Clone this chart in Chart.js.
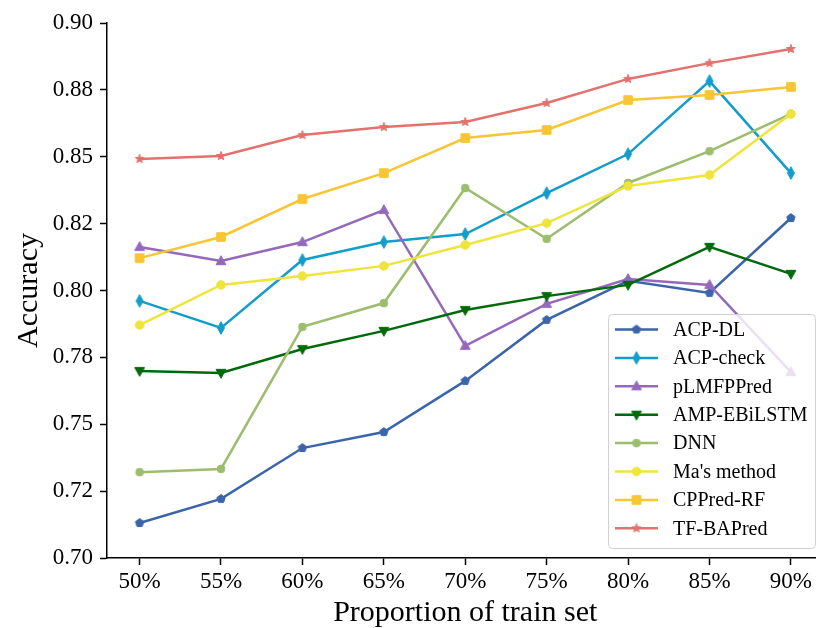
<!DOCTYPE html>
<html>
<head>
<meta charset="utf-8">
<script src="https://cdn.jsdelivr.net/npm/chart.js@4.4.1/dist/chart.umd.min.js"></script>
<style>
  html, body { margin: 0; padding: 0; background: #fff; overflow: hidden; }
  #wrap { width: 830px; height: 628px; }
</style>
</head>
<body>
<div id="wrap"><canvas id="chart" width="830" height="628"></canvas></div>
<script>
// Accuracy per training-set proportion
const xLabels = ['50%', '55%', '60%', '65%', '70%', '75%', '80%', '85%', '90%'];
const yTicks = [0.70, 0.725, 0.75, 0.775, 0.80, 0.825, 0.85, 0.875, 0.90];
const yTickLabels = ['0.70', '0.72', '0.75', '0.78', '0.80', '0.82', '0.85', '0.88', '0.90'];

const methodNames = ['ACP-DL', 'ACP-check', 'pLMFPPred', 'AMP-EBiLSTM', 'DNN', "Ma's method", 'CPPred-RF', 'TF-BAPred'];

const acpDl      = [0.7131, 0.7221, 0.7411, 0.7471, 0.7662, 0.7890, 0.8036, 0.7991, 0.8271];
const acpCheck   = [0.7961, 0.7860, 0.8114, 0.8181, 0.8211, 0.8364, 0.8510, 0.8783, 0.8439];
const plmfpPred  = [0.8163, 0.8110, 0.8181, 0.8301, 0.7793, 0.7950, 0.8043, 0.8021, 0.7695];
const ampEbilstm = [0.7699, 0.7692, 0.7781, 0.7849, 0.7927, 0.7979, 0.8021, 0.8163, 0.8062];
const dnn        = [0.7321, 0.7333, 0.7864, 0.7953, 0.8383, 0.8193, 0.8402, 0.8521, 0.8660];
const masMethod  = [0.7871, 0.8021, 0.8054, 0.8092, 0.8170, 0.8252, 0.8391, 0.8432, 0.8660];
const cppredRf   = [0.8121, 0.8200, 0.8342, 0.8439, 0.8570, 0.8600, 0.8712, 0.8731, 0.8761];
const tfBapred   = [0.8492, 0.8503, 0.8581, 0.8611, 0.8630, 0.8701, 0.8791, 0.8850, 0.8903];

const seriesValues = [acpDl, acpCheck, plmfpPred, ampEbilstm, dnn, masMethod, cppredRf, tfBapred];

// styling
const colors = ['#3b65ab', '#139dcb', '#9468bb', '#006a0a', '#9dbd6e', '#efe43c', '#f8c533', '#e1726d'];
const shapes = ['pentagon', 'thinDiamond', 'triangle', 'triangleDown', 'circle', 'circleBig', 'square', 'star'];

const FONT = '"Liberation Serif", "Times New Roman", serif';

// small canvases used as point styles (Chart.js has no pentagon / filled star / thin diamond)
function makeMarker(shape, color) {
  var c = document.createElement('canvas');
  c.width = 16; c.height = 16;
  var g = c.getContext('2d');
  g.fillStyle = color; g.strokeStyle = color; g.lineWidth = 1;
  g.translate(8, 8);
  g.beginPath();
  var i, a, r;
  if (shape === 'pentagon') {
    for (i = 0; i < 5; i++) {
      a = -Math.PI / 2 + i * 2 * Math.PI / 5;
      g.lineTo(4.4 * Math.cos(a), 4.4 * Math.sin(a));
    }
  } else if (shape === 'thinDiamond') {
    g.moveTo(0, -6.3); g.lineTo(3.5, 0); g.lineTo(0, 6.3); g.lineTo(-3.5, 0);
  } else if (shape === 'triangle') {
    g.moveTo(0, -5.3); g.lineTo(4.9, 3.6); g.lineTo(-4.9, 3.6);
  } else if (shape === 'triangleDown') {
    g.moveTo(0, 5.3); g.lineTo(4.9, -3.6); g.lineTo(-4.9, -3.6);
  } else if (shape === 'circle') {
    g.arc(0, 0, 3.9, 0, Math.PI * 2);
  } else if (shape === 'circleBig') {
    g.arc(0, 0, 4.3, 0, Math.PI * 2);
  } else if (shape === 'square') {
    g.rect(-4.3, -4.3, 8.6, 8.6);
  } else if (shape === 'star') {
    for (i = 0; i < 10; i++) {
      a = -Math.PI / 2 + i * Math.PI / 5;
      r = i % 2 === 0 ? 4.6 : 1.9;
      g.lineTo(r * Math.cos(a), r * Math.sin(a));
    }
  }
  g.closePath();
  g.fill();
  g.stroke();
  return c;
}

const markers = shapes.map(function (s, i) { return makeMarker(s, colors[i]); });

// matplotlib-style legend box inside the axes, lower right
const boxLegend = {
  id: 'boxLegend',
  afterDraw: function (chart) {
    var ctx = chart.ctx;
    var x = 608, y = 314, w = 207, h = 234, rad = 4;
    ctx.save();
    ctx.beginPath();
    ctx.roundRect(x + 0.5, y + 0.5, w, h, rad);
    ctx.fillStyle = 'rgba(255,255,255,0.8)';
    ctx.fill();
    ctx.strokeStyle = '#d0d0d0';
    ctx.lineWidth = 1;
    ctx.stroke();

    ctx.font = '20px ' + FONT;
    ctx.textBaseline = 'middle';
    ctx.textAlign = 'left';
    methodNames.forEach(function (name, i) {
      var ry = 329.5 + i * 28.4;
      ctx.beginPath();
      ctx.moveTo(615, ry);
      ctx.lineTo(658, ry);
      ctx.strokeStyle = colors[i];
      ctx.lineWidth = 2.5;
      ctx.stroke();
      ctx.drawImage(markers[i], 636.5 - 8, ry - 8);
      ctx.fillStyle = '#000';
      ctx.fillText(name, 673, ry + 1);
    });
    ctx.restore();
  }
};

const datasets = seriesValues.map(function (vals, i) {
  return {
    label: methodNames[i],
    data: vals.map(function (v, j) { return { x: j, y: v }; }),
    borderColor: colors[i],
    backgroundColor: colors[i],
    borderWidth: 2.5,
    tension: 0,
    pointStyle: markers[i],
    pointRadius: 4,
    fill: false,
    order: seriesValues.length - i, // later series drawn on top, like matplotlib
  };
});

new Chart(document.getElementById('chart'), {
  type: 'line',
  data: { datasets: datasets },
  options: {
    responsive: false,
    animation: false,
    devicePixelRatio: 1,
    layout: { padding: { left: 0, top: 23, right: 3, bottom: 0 } },
    plugins: {
      legend: { display: false },
      tooltip: { enabled: false },
    },
    scales: {
      x: {
        type: 'linear',
        min: -0.4,
        max: 8.4,
        afterBuildTicks: function (scale) {
          scale.ticks = xLabels.map(function (_, i) { return { value: i }; });
        },
        afterFit: function (scale) { scale.height = 70; },
        ticks: {
          autoSkip: false,
          maxRotation: 0,
          padding: 3,
          color: '#000',
          font: { family: FONT, size: 23 },
          callback: function (v, i) { return xLabels[i]; },
        },
        grid: { display: true, drawOnChartArea: false, drawTicks: true, tickLength: 7, tickWidth: 1.5, tickColor: '#000' },
        border: { display: true, color: '#000', width: 1.5 },
        title: {
          display: true,
          text: 'Proportion of train set',
          color: '#000',
          font: { family: FONT, size: 30 },
          padding: { top: 0, bottom: -3 },
        },
      },
      y: {
        type: 'linear',
        min: 0.70,
        max: 0.90,
        afterBuildTicks: function (scale) {
          scale.ticks = yTicks.map(function (v) { return { value: v }; });
        },
        afterFit: function (scale) { scale.width = 107; },
        ticks: {
          padding: 7,
          color: '#000',
          font: { family: FONT, size: 23 },
          callback: function (v, i) { return yTickLabels[i]; },
        },
        grid: { display: true, drawOnChartArea: false, drawTicks: true, tickLength: 7, tickWidth: 1.5, tickColor: '#000' },
        border: { display: true, color: '#000', width: 1.5 },
        title: {
          display: true,
          text: 'Accuracy',
          color: '#000',
          font: { family: FONT, size: 30 },
          padding: { top: 11, bottom: 0 },
        },
      },
    },
  },
  plugins: [boxLegend],
});
</script>
</body>
</html>
